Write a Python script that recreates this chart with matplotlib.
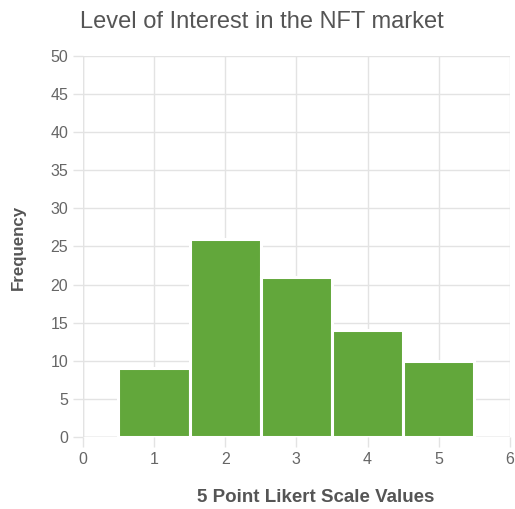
import matplotlib
matplotlib.use("Agg")
import matplotlib.pyplot as plt

likert_values = [1, 2, 3, 4, 5]
frequencies = [9, 26, 21, 14, 10]
x_ticks = [0, 1, 2, 3, 4, 5, 6]
y_ticks = [0, 5, 10, 15, 20, 25, 30, 35, 40, 45, 50]

plt.rcParams['font.family'] = ['Liberation Sans', 'DejaVu Sans']

fig = plt.figure(figsize=(5.15, 5.09), dpi=100)
ax = fig.add_axes([0.161, 0.1415, 0.829, 0.7485])

grid_c = '#e3e3e3'
ax.bar(likert_values, frequencies, width=1.0, color='#62a73b',
       edgecolor='white', linewidth=2.2, zorder=3)

ax.set_xlim(0, 6)
ax.set_ylim(0, 50)
ax.set_xticks(x_ticks)
ax.set_yticks(y_ticks)
ax.grid(True, color=grid_c, linewidth=1.0, zorder=0)
for s in ax.spines.values():
    s.set_visible(False)
ax.tick_params(axis='both', colors=grid_c, length=7, width=1.0,
               labelcolor='#666666', labelsize=11.5)
ax.tick_params(axis='x', pad=4)
ax.axhline(0, color='#d0d0d0', linewidth=1.0, zorder=1)
ax.axvline(0, color=grid_c, linewidth=1.0, zorder=1)

fig.text(0.155, 0.957, 'Level of Interest in the NFT market', fontsize=17,
         color='#555555', ha='left', va='center')
fig.text(0.035, 0.513, 'Frequency', rotation=90, fontsize=12.2,
         fontweight='bold', color='#555555', ha='center', va='center')
fig.text(0.613, 0.022, '5 Point Likert Scale Values', fontsize=13.5,
         fontweight='bold', color='#555555', ha='center', va='center')

fig.savefig('out.png', dpi=100)
